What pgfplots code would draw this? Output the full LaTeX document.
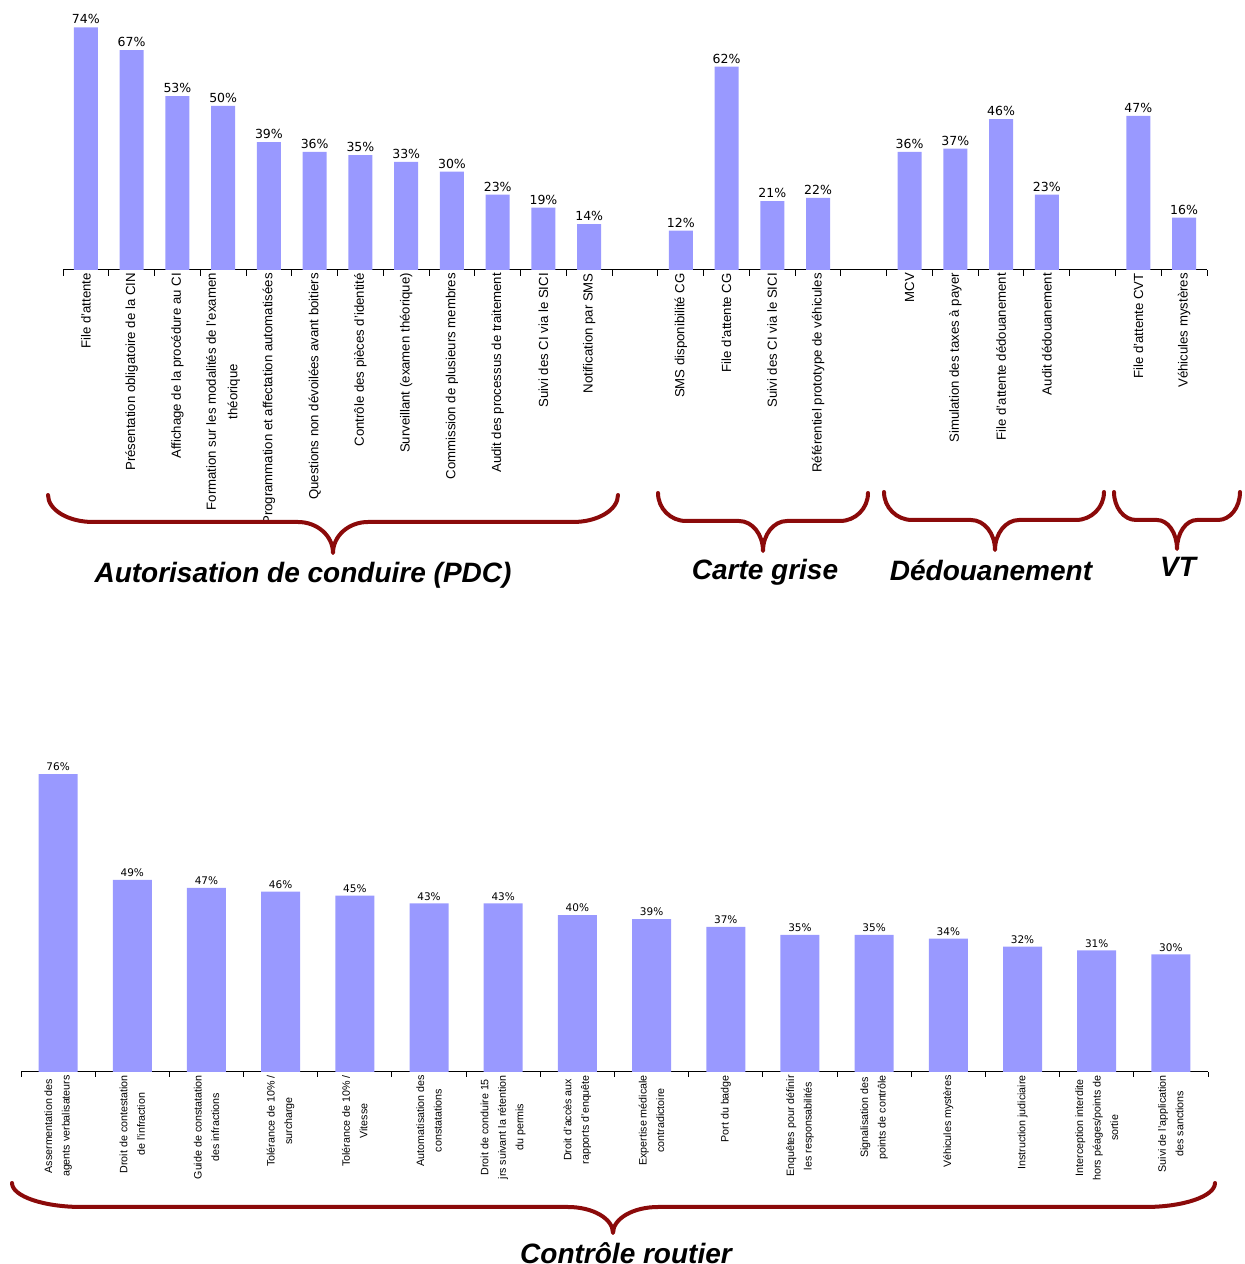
\documentclass[border=0pt]{standalone}
\usepackage{pgfplots}
\pgfplotsset{compat=1.18}
\usepackage{fontspec}
\setmainfont{Liberation Sans}
\newfontfamily\dejavu{DejaVu Sans}
\definecolor{barblue}{RGB}{153,153,255}
\definecolor{bracered}{RGB}{139,10,10}
\newcommand\brc[8]{%
 \draw[bracered, line width=4pt, line cap=round, line join=round]
 (#1,#4) .. controls (#1,{#4+0.552*(#5-#4)}) and ({#1+0.448*#7},#5) .. ({#1+#7},#5)
 -- ({#3-#8},#5) .. controls ({#3-0.448*#8},#5) and (#3,{#6-0.552*(#6-#5)}) .. (#3,#6)
 .. controls (#3,{#6-0.552*(#6-#5)}) and ({#3+0.448*#8},#5) .. ({#3+#8},#5)
 -- ({#2-#7},#5) .. controls ({#2-0.448*#7},#5) and (#2,{#4+0.552*(#5-#4)}) .. (#2,#4);
}
\begin{document}
\begin{tikzpicture}
\useasboundingbox (0,0) rectangle (1245pt,1264pt);
% ---------- top chart ----------
\begin{axis}[
  at={(63pt,994pt)}, anchor=south west,
  scale only axis, width=1144pt, height=262.4pt,
  xmin=-0.5, xmax=24.5, ymin=0, ymax=80,
  axis x line*=bottom, axis y line=none,
  x axis line style={black, line width=1pt},
  clip=false,
  /pgf/number format/assume math mode=true,
  xtick={0,1,2,3,4,5,6,7,8,9,10,11,13,14,15,16,18,19,20,21,23,24},
  xticklabels={File d'attente,Présentation obligatoire de la CIN,Affichage de la procédure au CI,{Formation sur les modalités de l'examen\\théorique},Programmation et affectation automatisées,Questions non dévoilées avant boitiers,Contrôle des pièces d'identité,Surveillant (examen théorique),Commission de plusieurs membres,Audit des processus de traitement,Suivi des CI via le SICI,Notification par SMS,SMS disponibilité CG,File d'attente CG,Suivi des CI via le SICI,Référentiel prototype de véhicules,MCV,Simulation des taxes à payer,File d'attente dédouanement,Audit dédouanement,File d'attente CVT,Véhicules mystères},
  xticklabel style={rotate=90, anchor=east, align=center, font=\fontsize{13.2}{21.5}\selectfont, inner sep=3pt},
  major tick length=0pt,
  minor xtick={-0.5,0.5,...,24.5},
  minor tick length=6pt, tick align=outside,
  minor tick style={black, line width=1pt},
  ytick=\empty,
]
\addplot[ybar, bar width=24pt, fill=barblue, draw=none,
  nodes near coords={\pgfmathprintnumber{\pgfplotspointmeta}\%},
  nodes near coords style={font=\dejavu\fontsize{12.5}{13}\selectfont, inner sep=3pt, black}]
 coordinates {(0,74) (1,67) (2,53) (3,50) (4,39) (5,36) (6,35) (7,33) (8,30) (9,23) (10,19) (11,14)
  (13,12) (14,62) (15,21) (16,22)
  (18,36) (19,37) (20,46) (21,23)
  (23,47) (24,16)};
\end{axis}
% ---------- bottom chart ----------
\begin{axis}[
  at={(21pt,192pt)}, anchor=south west,
  scale only axis, width=1187pt, height=313.6pt,
  xmin=-0.5, xmax=15.5, ymin=0, ymax=80,
  axis x line*=bottom, axis y line=none,
  x axis line style={black, line width=1pt},
  clip=false,
  /pgf/number format/assume math mode=true,
  xtick={0,1,...,15},
  xticklabels={{Assermentation des\\agents verbalisateurs},{Droit de contestation\\de l'infraction},{Guide de constatation\\des infractions},{Tolérance de 10\% /\\surcharge},{Tolérance de 10\% /\\Vitesse},{Automatisation des\\constatations},{Droit de conduire 15\\jrs suivant la rétention\\du permis},{Droit d'accès aux\\rapports d'enquête},{Expertise médicale\\contradictoire},Port du badge,{Enquêtes pour définir\\les responsabilités},{Signalisation des\\points de contrôle},Véhicules mystères,Instruction judiciaire,{Interception interdite\\hors péages/points de\\sortie},{Suivi de l'application\\des sanctions}},
  xticklabel style={rotate=90, anchor=east, align=center, font=\fontsize{10.7}{17.5}\selectfont, inner sep=3pt},
  major tick length=0pt,
  minor xtick={-0.5,0.5,...,15.5},
  minor tick length=5pt, tick align=outside,
  minor tick style={black, line width=1pt},
  ytick=\empty,
]
\addplot[ybar, bar width=39pt, fill=barblue, draw=none,
  nodes near coords={\pgfmathprintnumber{\pgfplotspointmeta}\%},
  nodes near coords style={font=\dejavu\fontsize{10.5}{11}\selectfont, inner sep=3pt, black}]
 coordinates {(0,76) (1,49) (2,47) (3,46) (4,45) (5,43) (6,43) (7,40) (8,39) (9,37) (10,35) (11,35) (12,34) (13,32) (14,31) (15,30)};
\end{axis}
% ---------- braces and group names ----------
\begin{scope}[x=1pt,y=-1pt,shift={(0pt,1264pt)}]
\brc{48}{618}{333}{495}{522}{553}{45}{35}
\brc{658}{868}{763}{493}{521}{551}{28}{24}
\brc{884}{1104}{995}{492}{520}{550}{28}{24}
\brc{1114}{1240}{1177}{492}{520}{549}{22}{20}
\brc{12}{1215}{613}{1183}{1207}{1233}{70}{45}
\begin{scope}[font=\bfseries\itshape\fontsize{28}{30}\selectfont]
\node at (303,575) {Autorisation de conduire (PDC)};
\node at (765,572) {Carte grise};
\node at (991,570) {Dédouanement};
\node at (1178,567) {VT};
\node at (626,1253) {Contrôle routier};
\end{scope}
\end{scope}
\end{tikzpicture}
\end{document}
